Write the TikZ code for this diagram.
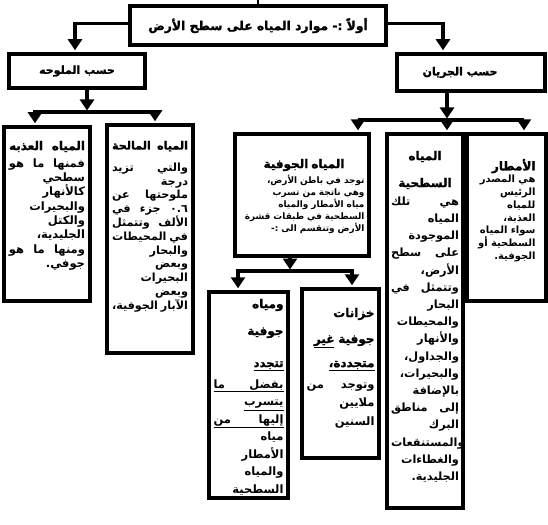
\documentclass[tikz,border=0pt]{standalone}
\usepackage{fontspec}
\newfontfamily\arabicfont[Script=Arabic]{DejaVu Sans}
\newfontfamily\arabicheavy[Script=Arabic, UprightFont={* Bold}, FakeBold=1.6]{DejaVu Sans}
\TeXXeTstate=1
\usetikzlibrary{arrows.meta}
\newcommand{\artxt}[1]{\beginR#1\endR}
% سطر مضبوط من كلمتين او ثلاث
\newcommand{\jlii}[2]{\leavevmode\hbox to \hsize{\artxt{#2}\hfill\artxt{#1}}}
\newcommand{\jliii}[3]{\leavevmode\hbox to \hsize{\artxt{#3}\hfill\artxt{#2}\hfill\artxt{#1}}}
\newcommand{\midline}[1]{\leavevmode\hbox to \hsize{\hfil#1\hfil}}
\newcommand{\boxhead}[1]{{\arabicheavy\fontsize{12}{14}\selectfont\artxt{#1}}}
\newcommand{\ularab}[1]{\underline{\artxt{#1}}}

\begin{document}
\begin{tikzpicture}[x=1pt, y=-1pt,
    box/.style={draw, line width=4.5pt, inner sep=0pt},
    conn/.style={line width=3.5pt, shorten >=1.5pt, -{Triangle[width=14pt,length=11pt]}},
    cattext/.style={font=\arabicheavy\fontsize{11}{14}\selectfont},
    body/.style={anchor=north, inner sep=0pt, align=right,
        font=\arabicfont\bfseries\fontsize{11.5}{14}\selectfont}]
    \useasboundingbox (0,0) rectangle (548,524);

    % العنوان
    \node[box, minimum width=256pt, minimum height=39pt,
        font=\arabicheavy\fontsize{12.3}{16}\selectfont] (title) at (258,25.5)
        {\artxt{أولاً :- موارد المياه على سطح الأرض}};
    \coordinate (feed) at (258,0);
    \draw[line width=2.5pt] (title.north) -- (feed);

    % التقسيم الأول
    \node[box, minimum width=136pt, minimum height=34pt, cattext] (salt) at (77,71)
        {\artxt{حسب الملوحه}};
    \node[box, minimum width=148pt, minimum height=37pt, cattext] (flow) at (471,72.5)
        {\artxt{حسب الجريان}\hspace*{22pt}};
    \draw[conn] ([yshift=2pt]title.west) -| ([xshift=-2pt]salt.north);
    \draw[conn] ([yshift=2pt]title.east) -| ([xshift=-28pt]flow.north);

    % حسب الملوحه
    \node[box, minimum width=86pt, minimum height=174pt] (fresh) at (47,214) {};
    \node[box, minimum width=86pt, minimum height=228pt] (saline) at (150,239) {};
    \node[body, text width=76pt,
        font=\arabicfont\bfseries\fontsize{11.5}{14.3}\selectfont] (fresh-txt) at ([yshift=-16pt]fresh.north) {
        {\arabicheavy\fontsize{12}{14}\selectfont\jlii{المياه}{العذبه}}\\[3pt]
        \jliii{فمنها}{ما}{هو}\\
        \artxt{سطحي}\\
        \artxt{كالأنهار}\\
        \artxt{والبحيرات}\\
        \artxt{والكتل}\\
        \artxt{الجليدية،}\\
        \jliii{ومنها}{ما}{هو}\\
        \artxt{جوفي.}};
    \node[body, text width=76pt,
        font=\arabicfont\bfseries\fontsize{11.2}{13.8}\selectfont] (saline-txt) at ([yshift=-18pt]saline.north) {
        {\arabicheavy\fontsize{11.2}{14}\selectfont\jlii{المياه}{المالحة}}\\[8pt]
        \jlii{والتي}{تزيد}\\
        \artxt{درجة}\\
        \jlii{ملوحتها}{عن}\\
        \jliii{٠.٦}{جزء}{في}\\
        \jlii{الألف}{وتتمثل}\\
        \jlii{في}{المحيطات}\\
        \artxt{والبحار}\\
        \artxt{وبعض}\\
        \artxt{البحيرات}\\
        \artxt{وبعض}\\
        \jlii{الآبار}{الجوفية،}};
    \coordinate (salt-bus) at (87,112);
    \draw[conn] (salt.south -| salt-bus) -- (salt-bus);
    \draw[conn] (salt-bus) -| ([xshift=-12pt]fresh.north);
    \draw[conn] (salt-bus) -| ([xshift=5pt]saline.north);

    % حسب الجريان
    \node[box, minimum width=134pt, minimum height=122pt] (ground) at (302,195) {};
    \node[box, minimum width=76pt, minimum height=374pt] (surface) at (425,321) {};
    \node[box, minimum width=79pt, minimum height=167pt] (rain) at (506.5,217.5) {};
    \node[body, text width=121pt,
        font=\arabicfont\bfseries\fontsize{8.9}{12}\selectfont] (ground-txt) at ([xshift=2pt,yshift=-27pt]ground.north) {
        \midline{\boxhead{المياه الجوفية}}\\[3pt]
        \artxt{توجد في باطن الأرض،}\\
        \artxt{وهي ناتجة من تسرب}\\
        \artxt{مياه الأمطار والمياه}\\
        \artxt{السطحية في طبقات قشرة}\\
        \artxt{الأرض وتنقسم الى :-}};
    \node[body, text width=68pt,
        font=\arabicfont\bfseries\fontsize{11.3}{17.2}\selectfont] (surface-txt) at ([yshift=-19pt]surface.north) {
        \midline{\boxhead{المياه}}\\[9.8pt]
        \midline{\boxhead{السطحية}}\\[1pt]
        \jlii{هي}{تلك}\\
        \artxt{المياه}\\
        \artxt{الموجودة}\\
        \jlii{على}{سطح}\\
        \artxt{الأرض،}\\
        \jlii{وتتمثل}{في}\\
        \artxt{البحار}\\
        \artxt{والمحيطات}\\
        \artxt{والأنهار}\\
        \artxt{والجداول،}\\
        \artxt{والبحيرات،}\\
        \artxt{بالإضافة}\\
        \jlii{إلى}{مناطق}\\
        \artxt{البرك}\\
        \artxt{والمستنقعات}\\
        \artxt{والغطاءات}\\
        \artxt{الجليدية.}};
    \node[body, text width=64pt,
        font=\arabicfont\bfseries\fontsize{10}{12.7}\selectfont] (rain-txt) at ([xshift=-3pt,yshift=-27pt]rain.north) {
        \boxhead{الأمطار}\\
        \artxt{هي المصدر}\\
        \artxt{الرئيس}\\
        \artxt{للمياه}\\
        \artxt{العذبة،}\\
        \artxt{سواء المياه}\\
        \artxt{السطحية أو}\\
        \artxt{الجوفية.}};
    \coordinate (flow-bus) at (447,120);
    \draw[conn] (flow.south -| flow-bus) -- (flow-bus);
    \draw[conn] (flow-bus) -| ([xshift=56pt]ground.north);
    \draw[conn] (flow-bus) -| ([xshift=22pt]surface.north);
    \draw[conn] (flow-bus) -| ([xshift=17.5pt]rain.north);

    % تقسيم المياه الجوفية
    \node[box, minimum width=79pt, minimum height=206pt] (renew) at (248.5,395) {};
    \node[box, minimum width=77pt, minimum height=169pt] (fossil) at (340.5,373.5) {};
    \node[body, text width=70pt,
        font=\arabicfont\bfseries\fontsize{11.5}{17.5}\selectfont] (renew-txt) at ([yshift=-9pt]renew.north) {
        \boxhead{ومياه}\\[9.5pt]
        \boxhead{جوفية}\\[14.5pt]
        {\arabicheavy\ularab{تتجدد}}\\[3.5pt]
        \underline{\jlii{بفضل}{ما}}\\
        \ularab{يتسرب}\\
        \underline{\jlii{إليها}{من}}\\
        \artxt{مياه}\\
        \artxt{الأمطار}\\
        \artxt{والمياه}\\
        \artxt{السطحية}};
    \node[body, text width=68pt,
        font=\arabicfont\bfseries\fontsize{11.5}{18.5}\selectfont] (fossil-txt) at ([yshift=-21pt]fossil.north) {
        \boxhead{خزانات}\\[7.5pt]
        {\arabicheavy\fontsize{12}{14}\selectfont\artxt{جوفية \underline{غير}}}\\[5.5pt]
        {\arabicheavy\fontsize{12}{14}\selectfont\ularab{متجددة،}}\\[2.5pt]
        \jlii{وتوجد}{من}\\
        \artxt{ملايين}\\
        \artxt{السنين}};
    \coordinate (ground-bus) at (290,271);
    \draw[conn] (ground.south -| ground-bus) -- (ground-bus);
    \draw[conn] (ground-bus) -| ([xshift=-10.5pt]renew.north);
    \draw[conn] (ground-bus) -| ([xshift=11.5pt]fossil.north);
\end{tikzpicture}
\end{document}
